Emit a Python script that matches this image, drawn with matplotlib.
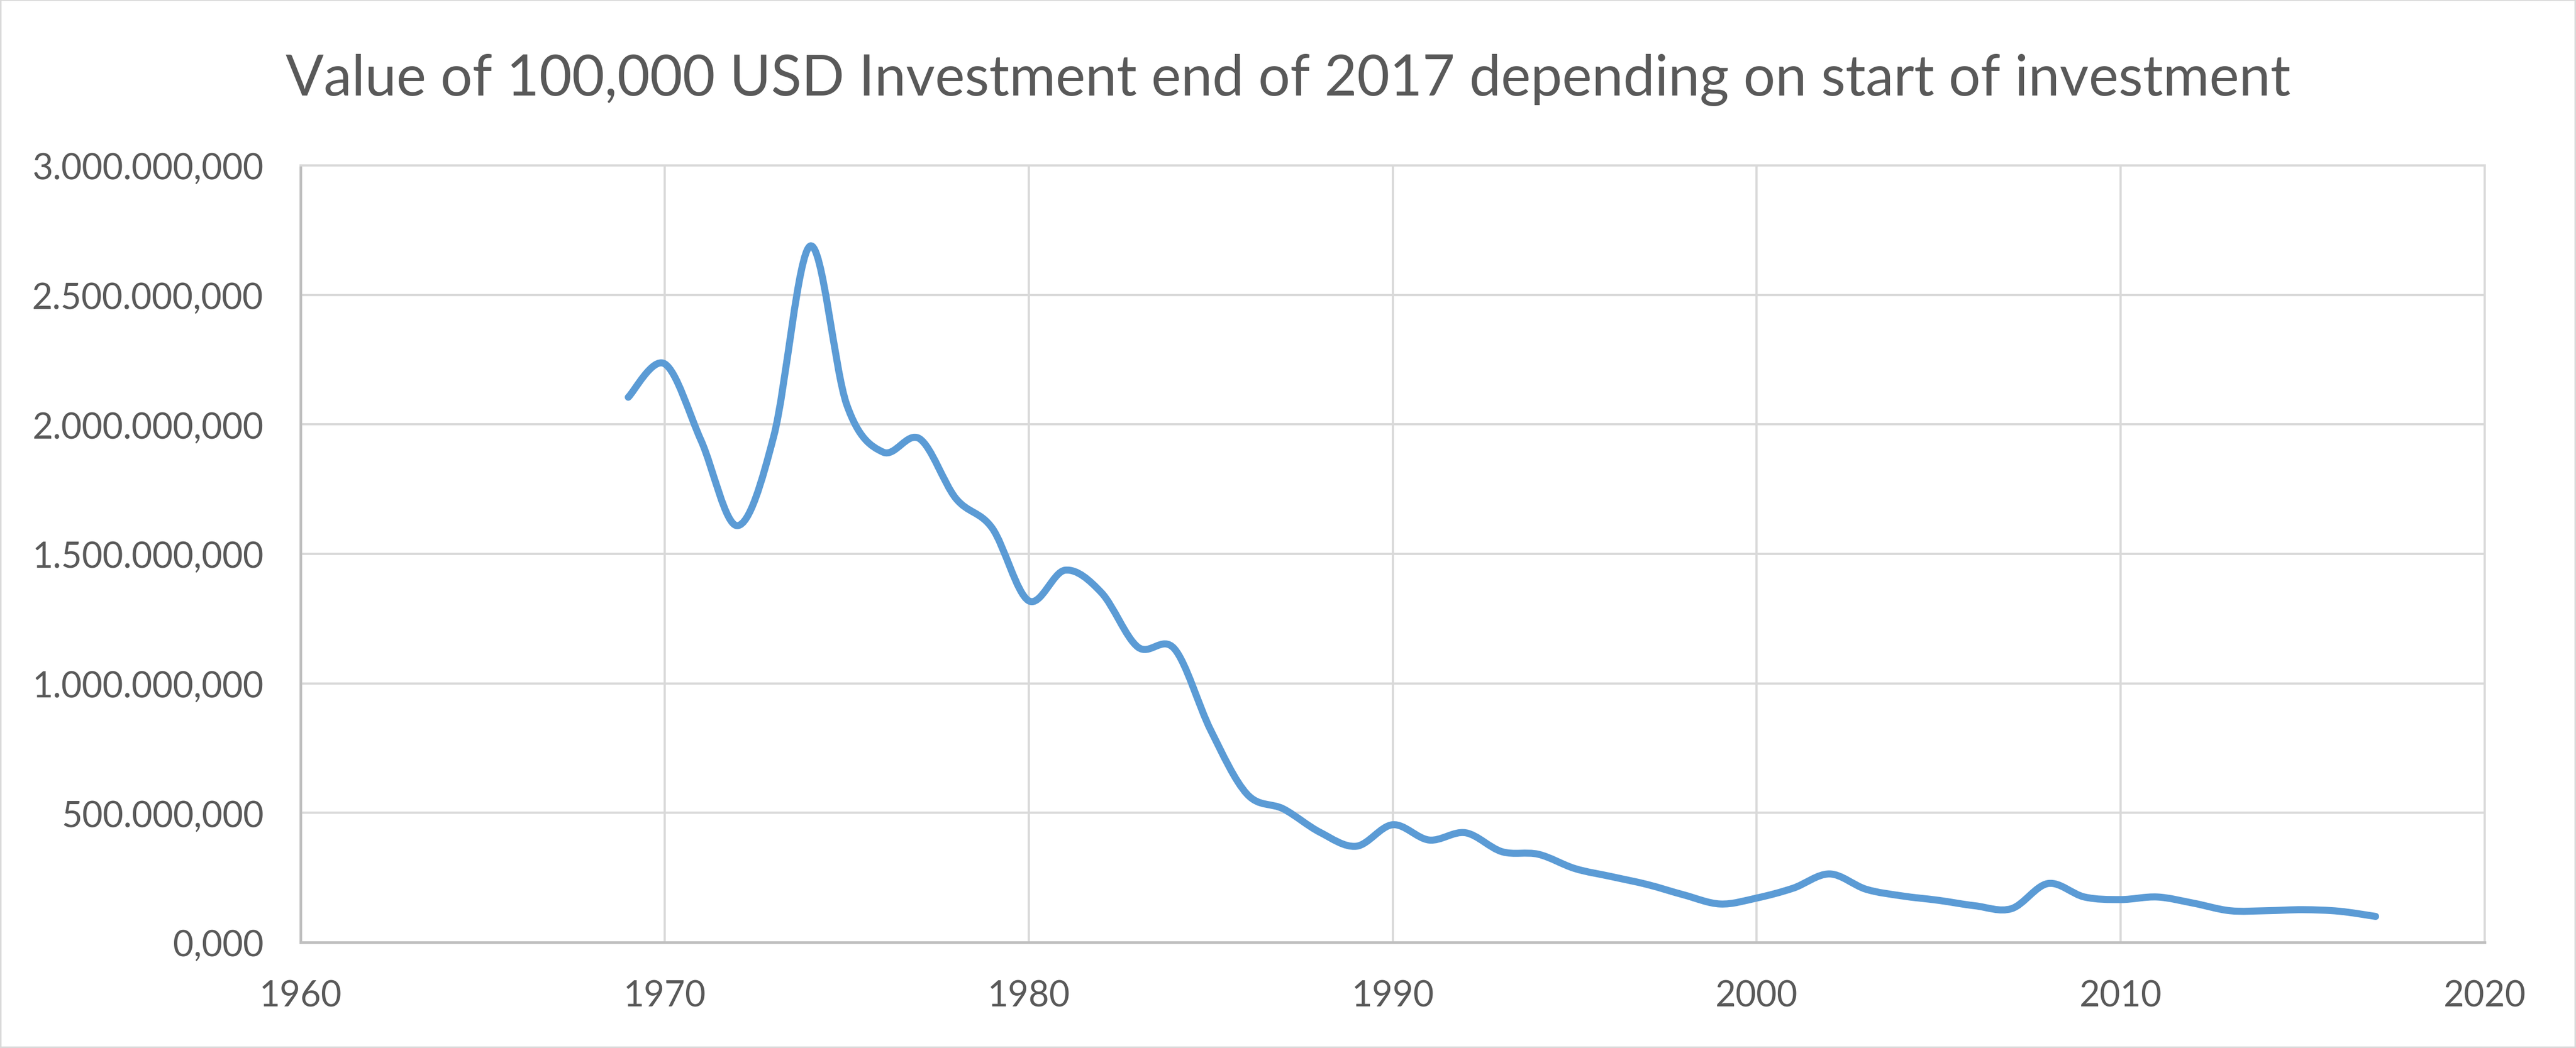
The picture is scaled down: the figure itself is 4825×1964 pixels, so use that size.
import matplotlib
matplotlib.use("Agg")
import matplotlib.pyplot as plt
import numpy as np
from matplotlib.path import Path
from matplotlib.patches import PathPatch, Rectangle
from matplotlib.ticker import FuncFormatter, MultipleLocator

# start year of the investment -> value end of 2017 (thousand units, axis shows 3.000.000,000 max)
years = list(range(1969, 2018))
values_k = [
    2105, 2234, 1938, 1609, 1956, 2689, 2077, 1893, 1945, 1714, 1599,
    1319, 1437, 1350, 1140, 1134, 819, 572, 515, 425, 371, 454,
    395, 423, 350, 340, 285, 254, 223, 183, 148, 171, 209, 264, 205,
    179, 162, 141, 130, 227, 175, 165, 175, 151, 122, 122, 126, 120, 100,
]
title = "Value of 100,000 USD Investment end of 2017 depending on start of investment"

TEXT = "#595959"
GRID = "#d9d9d9"
AXIS = "#bfbfbf"
LINE = "#5b9bd5"
FONT = ["Lato", "DejaVu Sans"]


def smooth_path(x, y):
    """Excel-style smoothed line: cubic Bezier through every data point."""
    pts = np.column_stack([x, y]).astype(float)
    n = len(pts)
    verts = [pts[0]]
    codes = [Path.MOVETO]
    for i in range(n - 1):
        p0 = pts[i - 1] if i > 0 else pts[i]
        p1 = pts[i]
        p2 = pts[i + 1]
        p3 = pts[i + 2] if i + 2 < n else pts[i + 1]
        verts += [p1 + (p2 - p0) / 6.0, p2 - (p3 - p1) / 6.0, p2]
        codes += [Path.CURVE4] * 3
    return Path(verts, codes)


def euro_fmt(v, _pos):
    # 3,000,000.000 -> 3.000.000,000
    s = f"{v:,.3f}"
    return s.replace(",", "X").replace(".", ",").replace("X", ".")


plt.rcParams["font.family"] = FONT

fig = plt.figure(figsize=(48.25, 19.65), dpi=100)
ax = fig.add_axes([0.1167, 0.1008, 0.8479, 0.7409])

vals = np.array(values_k) * 1e3
ax.add_patch(PathPatch(smooth_path(years, vals), facecolor="none",
                       edgecolor=LINE, lw=9.5, capstyle="round",
                       joinstyle="round", zorder=3))

ax.set_xlim(1960, 2020)
ax.set_ylim(0, 3e6)
ax.xaxis.set_major_locator(MultipleLocator(10))
ax.yaxis.set_major_locator(MultipleLocator(5e5))
ax.yaxis.set_major_formatter(FuncFormatter(euro_fmt))

ax.grid(True, color=GRID, lw=3)
ax.set_axisbelow(True)
for side in ("top", "right"):
    ax.spines[side].set_color(GRID)
    ax.spines[side].set_linewidth(3)
for side in ("left", "bottom"):
    ax.spines[side].set_color(AXIS)
    ax.spines[side].set_linewidth(3.5)

ax.tick_params(axis="both", length=0, labelsize=48, labelcolor=TEXT)
ax.tick_params(axis="y", pad=50)
ax.tick_params(axis="x", pad=50)

fig.text(0.5, 1 - 179 / 1965, title, ha="center", va="baseline",
         fontsize=76, color=TEXT)

fig.patches.append(Rectangle((0, 0), 1, 1, transform=fig.transFigure,
                             fill=False, edgecolor=GRID, lw=4))

fig.savefig("out.png", dpi=100)
